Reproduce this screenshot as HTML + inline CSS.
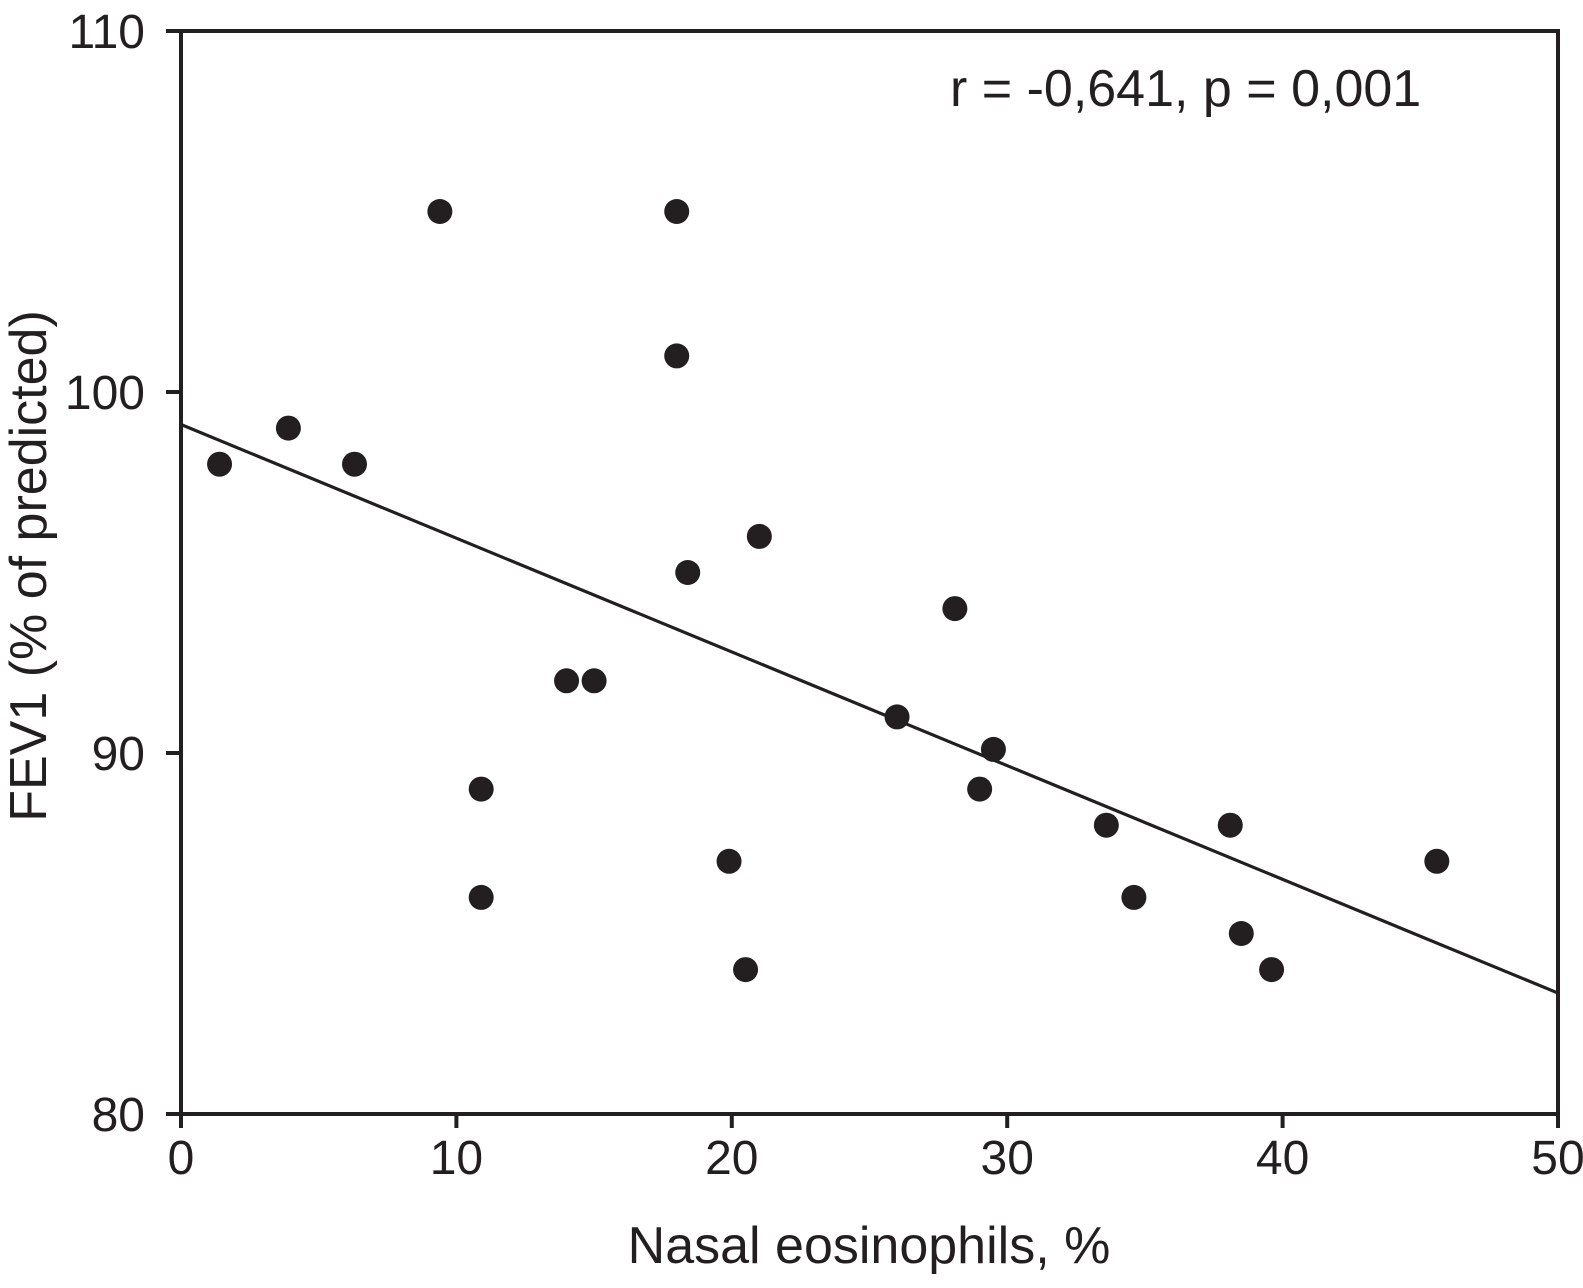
<!DOCTYPE html>
<html><head><meta charset="utf-8"><style>
html,body{margin:0;padding:0;background:#fff;}
svg{display:block;font-family:"Liberation Sans",Arial,sans-serif;}
</style></head><body>
<svg id="chart" width="1583" height="1288" viewBox="0 0 1583 1288" xmlns="http://www.w3.org/2000/svg">
<rect x="0" y="0" width="1583" height="1288" fill="#fff"/>
<g id="marks"></g>
<text x="950" y="106" font-size="52" fill="#231f20">r = -0,641, p = 0,001</text>
<text x="869" y="1263" font-size="52" fill="#231f20" text-anchor="middle">Nasal eosinophils, %</text>
<text transform="translate(46,566) rotate(-90)" font-size="52" fill="#231f20" text-anchor="middle">FEV1 (% of predicted)</text>
</svg>
<script>
const xValues = [1.4, 3.9, 6.3, 9.4, 10.9, 10.9, 14.0, 15.0, 18.0, 18.0, 18.4, 21.0, 19.9, 20.5, 26.0, 28.1, 29.5, 29.0, 33.6, 34.6, 38.1, 38.5, 39.6, 45.6];
const yValues = [98, 99, 98, 105, 89, 86, 92, 92, 105, 101, 95, 96, 87, 84, 91, 94, 90.1, 89, 88, 86, 88, 85, 84, 87];
const xTicks = [0, 10, 20, 30, 40, 50];
const yTicks = [80, 90, 100, 110];
const fitIntercept = [99.1];
const fitSlope = [-0.315];

const L = 181, R = 1558, T = 31, B = 1114;
const xMin = 0, xMax = 50, yMin = 80, yMax = 110;
function sx(v){ return L + (v - xMin) / (xMax - xMin) * (R - L); }
function sy(v){ return B - (v - yMin) / (yMax - yMin) * (B - T); }
const NS = 'http://www.w3.org/2000/svg';
const g = document.getElementById('marks');
function mk(tag, attrs){ const e = document.createElementNS(NS, tag); for (const k in attrs) e.setAttribute(k, attrs[k]); g.appendChild(e); return e; }
const col = '#231f20';

const frame = mk('rect', {x: L, y: T, width: R - L, height: B - T, fill: 'none', stroke: col, 'stroke-width': 4});



xTicks.forEach(function(t){
  const ln = mk('line', {x1: sx(t), x2: sx(t), y1: B, y2: B + 14, stroke: col, 'stroke-width': 4});
  
  
  const tx = mk('text', {x: sx(t), y: 1174, 'font-size': 48, fill: col, 'text-anchor': 'middle'});
  tx.textContent = String(t);
  
  
});
yTicks.forEach(function(t){
  const ln = mk('line', {x1: L - 15, x2: L, y1: sy(t), y2: sy(t), stroke: col, 'stroke-width': 4});
  
  
  const tx = mk('text', {x: 145, y: sy(t) + 17, 'font-size': 48, fill: col, 'text-anchor': 'end'});
  tx.textContent = String(t);
  
  
});

const fit = mk('line', {x1: sx(xMin), y1: sy(fitIntercept[0] + fitSlope[0] * xMin), x2: sx(xMax), y2: sy(fitIntercept[0] + fitSlope[0] * xMax), stroke: col, 'stroke-width': 3.2});



xValues.forEach(function(xv, i){
  const c = mk('circle', {cx: sx(xv), cy: sy(yValues[i]), r: 12.5, fill: col});
  
  
});
</script>
</body></html>
